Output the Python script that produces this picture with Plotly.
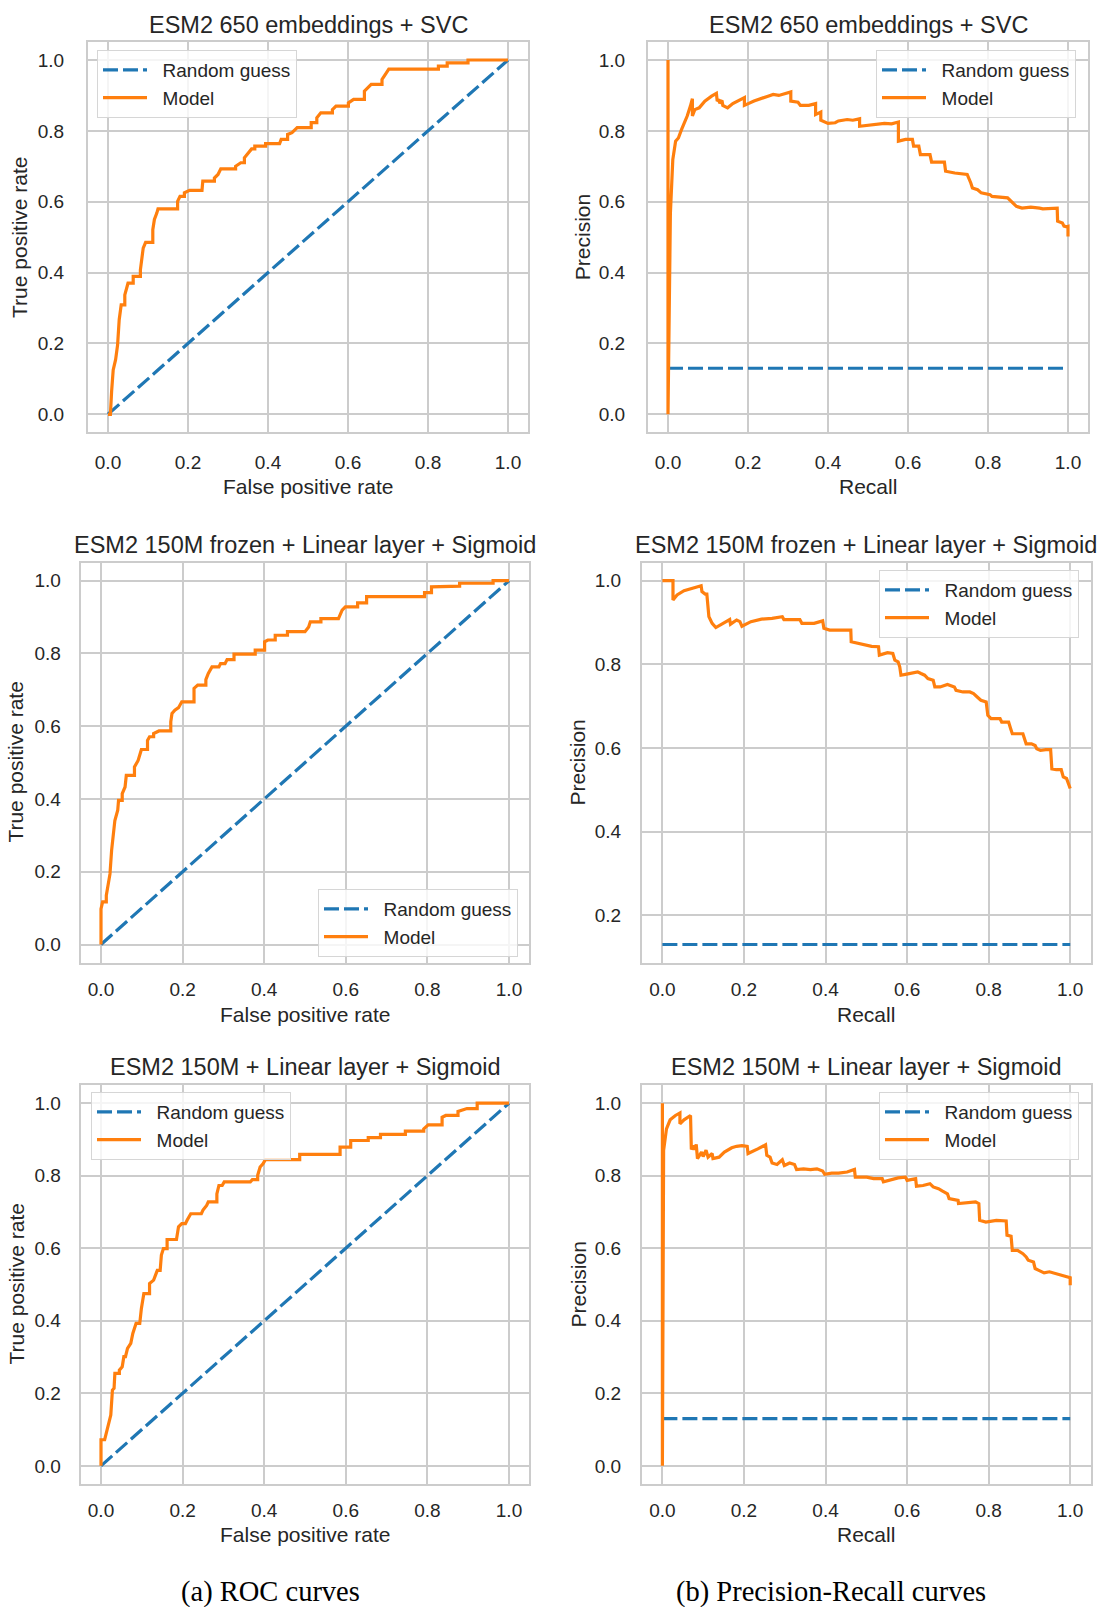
import plotly.graph_objects as go

W, H = 1102, 1607

# ---------------- data ----------------
roc1_fpr = [0, 0.006, 0.009, 0.013, 0.019, 0.024, 0.028, 0.033, 0.042, 0.042, 0.050, 0.063, 0.063, 0.081, 0.081,
            0.088, 0.094, 0.112, 0.112, 0.116, 0.122, 0.125, 0.174, 0.174, 0.180, 0.191, 0.191, 0.204, 0.235, 0.237,
            0.266, 0.266, 0.275, 0.282, 0.319, 0.319, 0.332, 0.341, 0.341, 0.350, 0.359, 0.367, 0.367, 0.394, 0.394,
            0.429, 0.433, 0.449, 0.449, 0.460, 0.473, 0.508, 0.508, 0.522, 0.522, 0.532, 0.561, 0.561, 0.570, 0.601,
            0.601, 0.614, 0.641, 0.641, 0.649, 0.658, 0.685, 0.685, 0.693, 0.702, 0.826, 0.826, 0.848, 0.848, 0.900,
            0.900, 1.0]
roc1_tpr = [0, 0, 0.064, 0.125, 0.154, 0.196, 0.267, 0.309, 0.309, 0.337, 0.370, 0.370, 0.389, 0.389, 0.408,
            0.469, 0.485, 0.485, 0.521, 0.550, 0.568, 0.580, 0.580, 0.601, 0.615, 0.615, 0.625, 0.632, 0.632, 0.658,
            0.658, 0.667, 0.677, 0.693, 0.693, 0.700, 0.710, 0.710, 0.724, 0.736, 0.749, 0.749, 0.757, 0.757, 0.764,
            0.764, 0.776, 0.776, 0.790, 0.795, 0.809, 0.809, 0.823, 0.823, 0.837, 0.851, 0.851, 0.860, 0.870, 0.870,
            0.879, 0.889, 0.889, 0.912, 0.922, 0.931, 0.931, 0.945, 0.959, 0.974, 0.974, 0.983, 0.983, 0.992, 0.992,
            1.0, 1.0]

roc2_fpr = [0, 0, 0.004, 0.013, 0.013, 0.017, 0.022, 0.026, 0.030, 0.034, 0.041, 0.043, 0.052, 0.052, 0.059,
            0.062, 0.082, 0.082, 0.091, 0.095, 0.099, 0.114, 0.114, 0.119, 0.129, 0.129, 0.142, 0.171, 0.171, 0.174,
            0.181, 0.190, 0.198, 0.228, 0.228, 0.237, 0.257, 0.257, 0.263, 0.272, 0.289, 0.293, 0.304, 0.309, 0.326,
            0.326, 0.378, 0.378, 0.401, 0.401, 0.409, 0.427, 0.427, 0.457, 0.457, 0.500, 0.509, 0.513, 0.539, 0.539,
            0.582, 0.591, 0.599, 0.629, 0.629, 0.651, 0.651, 0.793, 0.793, 0.810, 0.810, 0.879, 0.879, 0.961, 0.961,
            1.0]
roc2_tpr = [0, 0.098, 0.117, 0.117, 0.135, 0.162, 0.194, 0.259, 0.305, 0.341, 0.369, 0.396, 0.396, 0.415, 0.433,
            0.465, 0.465, 0.488, 0.506, 0.520, 0.536, 0.536, 0.561, 0.571, 0.571, 0.580, 0.587, 0.587, 0.612, 0.635,
            0.644, 0.651, 0.667, 0.667, 0.704, 0.713, 0.713, 0.728, 0.745, 0.763, 0.763, 0.772, 0.772, 0.783, 0.783,
            0.798, 0.798, 0.809, 0.809, 0.832, 0.837, 0.837, 0.850, 0.850, 0.860, 0.860, 0.873, 0.887, 0.887, 0.896,
            0.896, 0.919, 0.928, 0.928, 0.939, 0.939, 0.956, 0.956, 0.967, 0.967, 0.983, 0.985, 0.993, 0.993, 1.0,
            1.0]

roc3_fpr = [0, 0, 0.009, 0.013, 0.017, 0.024, 0.028, 0.032, 0.034, 0.045, 0.045, 0.052, 0.056, 0.060, 0.065,
            0.073, 0.078, 0.086, 0.095, 0.099, 0.105, 0.119, 0.119, 0.129, 0.138, 0.145, 0.148, 0.153, 0.162, 0.162,
            0.185, 0.190, 0.198, 0.207, 0.211, 0.220, 0.246, 0.250, 0.259, 0.263, 0.284, 0.284, 0.289, 0.297, 0.302,
            0.366, 0.371, 0.384, 0.384, 0.390, 0.397, 0.403, 0.487, 0.487, 0.586, 0.586, 0.612, 0.612, 0.655, 0.655,
            0.685, 0.685, 0.746, 0.746, 0.791, 0.791, 0.802, 0.836, 0.836, 0.845, 0.875, 0.875, 0.897, 0.922, 0.922,
            1.0]
roc3_tpr = [0, 0.072, 0.072, 0.090, 0.117, 0.140, 0.209, 0.214, 0.255, 0.255, 0.264, 0.273, 0.301, 0.301, 0.324,
            0.338, 0.365, 0.393, 0.393, 0.434, 0.475, 0.475, 0.503, 0.512, 0.539, 0.539, 0.581, 0.599, 0.599, 0.624,
            0.624, 0.659, 0.668, 0.668, 0.677, 0.695, 0.695, 0.705, 0.718, 0.728, 0.728, 0.750, 0.773, 0.773, 0.783,
            0.783, 0.789, 0.789, 0.801, 0.824, 0.833, 0.844, 0.844, 0.859, 0.859, 0.879, 0.879, 0.897, 0.897, 0.905,
            0.905, 0.914, 0.914, 0.923, 0.923, 0.929, 0.940, 0.940, 0.961, 0.966, 0.966, 0.977, 0.985, 0.985, 1.0,
            1.0]

pr1_recall = [0, 0, 0.006, 0.012, 0.019, 0.026, 0.034, 0.048, 0.056, 0.061, 0.061, 0.067, 0.078, 0.092, 0.109,
              0.121, 0.123, 0.127, 0.129, 0.135, 0.137, 0.149, 0.162, 0.180, 0.191, 0.191, 0.215, 0.250, 0.263, 0.277,
              0.307, 0.307, 0.325, 0.331, 0.352, 0.369, 0.369, 0.382, 0.382, 0.400, 0.418, 0.426, 0.448, 0.462, 0.479,
              0.479, 0.515, 0.541, 0.559, 0.576, 0.576, 0.594, 0.611, 0.614, 0.627, 0.631, 0.655, 0.659, 0.691, 0.694,
              0.717, 0.748, 0.757, 0.761, 0.774, 0.783, 0.805, 0.810, 0.849, 0.863, 0.871, 0.885, 0.907, 0.929, 0.937,
              0.973, 0.974, 0.986, 0.990, 0.997, 1.0, 1.0]
pr1_precision = [1.0, 0, 0.568, 0.719, 0.771, 0.780, 0.804, 0.842, 0.870, 0.891, 0.842, 0.860, 0.865, 0.884, 0.898,
                 0.906, 0.884, 0.889, 0.878, 0.886, 0.872, 0.865, 0.877, 0.887, 0.894, 0.872, 0.884, 0.898, 0.903,
                 0.900, 0.910, 0.884, 0.881, 0.872, 0.872, 0.877, 0.846, 0.853, 0.830, 0.821, 0.823, 0.828, 0.832,
                 0.830, 0.834, 0.813, 0.818, 0.821, 0.820, 0.825, 0.771, 0.776, 0.776, 0.757, 0.757, 0.733, 0.733,
                 0.712, 0.712, 0.686, 0.681, 0.677, 0.653, 0.639, 0.634, 0.625, 0.620, 0.615, 0.611, 0.597, 0.587,
                 0.582, 0.585, 0.582, 0.580, 0.582, 0.545, 0.540, 0.531, 0.529, 0.530, 0.502]

pr2_recall = [0, 0.026, 0.026, 0.036, 0.053, 0.071, 0.095, 0.097, 0.105, 0.109, 0.114, 0.118, 0.122, 0.131, 0.148,
              0.165, 0.167, 0.182, 0.190, 0.195, 0.217, 0.243, 0.269, 0.294, 0.298, 0.320, 0.337, 0.342, 0.372, 0.393,
              0.396, 0.410, 0.462, 0.463, 0.483, 0.501, 0.513, 0.530, 0.532, 0.552, 0.565, 0.570, 0.578, 0.582, 0.585,
              0.596, 0.613, 0.626, 0.634, 0.643, 0.651, 0.664, 0.668, 0.681, 0.699, 0.716, 0.720, 0.737, 0.754, 0.763,
              0.772, 0.781, 0.794, 0.798, 0.806, 0.828, 0.832, 0.849, 0.854, 0.858, 0.884, 0.892, 0.905, 0.914, 0.918,
              0.927, 0.940, 0.952, 0.955, 0.966, 0.978, 0.983, 0.991, 0.996, 1.0]
pr2_precision = [1.0, 1.0, 0.954, 0.966, 0.976, 0.982, 0.988, 0.974, 0.968, 0.968, 0.914, 0.906, 0.898, 0.888, 0.898,
                 0.907, 0.896, 0.906, 0.902, 0.891, 0.902, 0.908, 0.910, 0.914, 0.907, 0.907, 0.907, 0.898, 0.898,
                 0.904, 0.886, 0.882, 0.882, 0.854, 0.850, 0.846, 0.843, 0.842, 0.822, 0.828, 0.826, 0.810, 0.806,
                 0.794, 0.774, 0.776, 0.780, 0.782, 0.778, 0.774, 0.766, 0.762, 0.746, 0.746, 0.752, 0.746, 0.738,
                 0.734, 0.734, 0.730, 0.722, 0.714, 0.710, 0.678, 0.670, 0.670, 0.662, 0.662, 0.646, 0.634, 0.634,
                 0.610, 0.610, 0.606, 0.598, 0.594, 0.596, 0.596, 0.550, 0.548, 0.548, 0.531, 0.527, 0.515, 0.503]

pr3_recall = [0, 0, 0.003, 0.010, 0.019, 0.032, 0.043, 0.043, 0.053, 0.069, 0.071, 0.075, 0.079, 0.083, 0.086,
              0.096, 0.100, 0.107, 0.112, 0.122, 0.124, 0.139, 0.152, 0.170, 0.182, 0.195, 0.208, 0.210, 0.234, 0.253,
              0.256, 0.264, 0.269, 0.281, 0.294, 0.299, 0.312, 0.324, 0.329, 0.346, 0.363, 0.379, 0.393, 0.398, 0.415,
              0.432, 0.453, 0.471, 0.473, 0.501, 0.518, 0.539, 0.542, 0.561, 0.578, 0.596, 0.600, 0.621, 0.623, 0.639,
              0.656, 0.664, 0.677, 0.686, 0.699, 0.703, 0.725, 0.726, 0.750, 0.768, 0.776, 0.778, 0.793, 0.819, 0.843,
              0.845, 0.855, 0.858, 0.871, 0.884, 0.892, 0.897, 0.910, 0.914, 0.923, 0.936, 0.949, 0.966, 0.974, 0.991,
              1.0, 1.0]
pr3_precision = [1.0, 0, 0.870, 0.929, 0.954, 0.966, 0.973, 0.943, 0.954, 0.966, 0.872, 0.883, 0.872, 0.886, 0.847,
                 0.865, 0.853, 0.870, 0.851, 0.861, 0.847, 0.851, 0.865, 0.877, 0.881, 0.883, 0.881, 0.861, 0.874,
                 0.885, 0.856, 0.851, 0.835, 0.831, 0.844, 0.828, 0.835, 0.831, 0.817, 0.819, 0.817, 0.819, 0.813,
                 0.804, 0.807, 0.807, 0.810, 0.817, 0.796, 0.796, 0.792, 0.792, 0.783, 0.789, 0.794, 0.796, 0.787,
                 0.792, 0.771, 0.773, 0.778, 0.769, 0.764, 0.758, 0.750, 0.737, 0.732, 0.723, 0.725, 0.728, 0.723,
                 0.677, 0.672, 0.677, 0.675, 0.636, 0.633, 0.594, 0.594, 0.585, 0.576, 0.567, 0.562, 0.544, 0.539,
                 0.532, 0.535, 0.530, 0.526, 0.521, 0.519, 0.498]

chance_x = [0.0, 1.0]
roc_chance_y = [0.0, 1.0]
pr_chance_y = [0.13, 0.13]

tick_vals = [0.0, 0.2, 0.4, 0.6, 0.8, 1.0]

panel_titles = ["ESM2 650 embeddings + SVC", "ESM2 650 embeddings + SVC",
                "ESM2 150M frozen + Linear layer + Sigmoid", "ESM2 150M frozen + Linear layer + Sigmoid",
                "ESM2 150M + Linear layer + Sigmoid", "ESM2 150M + Linear layer + Sigmoid"]
x_titles = ["False positive rate", "Recall"] * 3
y_titles = ["True positive rate", "Precision"] * 3
series_names = ["Random guess", "Model"]
captions = ["(a) ROC curves", "(b) Precision-Recall curves"]

curves = [
    (chance_x, roc_chance_y, roc1_fpr, roc1_tpr),
    (chance_x, pr_chance_y, pr1_recall, pr1_precision),
    (chance_x, roc_chance_y, roc2_fpr, roc2_tpr),
    (chance_x, pr_chance_y, pr2_recall, pr2_precision),
    (chance_x, roc_chance_y, roc3_fpr, roc3_tpr),
    (chance_x, pr_chance_y, pr3_recall, pr3_precision),
]

# ---------------- layout (pixel geometry) ----------------
frames = [(88, 42.3, 528, 432), (648, 42.3, 1088, 432),
          (80.6, 562.5, 529.4, 962.7), (642, 562.5, 1090.6, 962.7),
          (80.6, 1085, 529.4, 1484), (642, 1085, 1090.6, 1484)]
y_ranges = [[-0.05, 1.05], [-0.05, 1.05], [-0.05, 1.05], [0.0865, 1.0435], [-0.05, 1.05], [-0.05, 1.05]]
legend_px = [(97, 50), (876, 50), (318, 889), (879, 570), (91, 1092), (879, 1092)]
title_y_px = [25, 25, 545, 545, 1066.5, 1066.5]
xtitle_y_px = [487, 487, 1014, 1014, 1534, 1534]
ytitle_x_px = [18.8, 582, 16, 578, 16, 578]
x_standoff = [12, 12, 8, 8, 8, 8]
y_standoff = [18, 17, 14, 15, 14, 15]

FONT = "Liberation Sans, Arial, sans-serif"
TXT = "#262626"
GRID = "#cccccc"
BLUE = "#1f77b4"
ORANGE = "#ff7f0e"
PAD = "\u00a0\u00a0"

fig = go.Figure()
annotations = []
layout = dict(width=W, height=H, margin=dict(l=0, r=0, t=0, b=0),
              paper_bgcolor="white", plot_bgcolor="white",
              font=dict(family=FONT, color=TXT), showlegend=True)

for i, (cx, cy, mx, my) in enumerate(curves):
    n = i + 1
    sfx = "" if n == 1 else str(n)
    lg = "legend" if n == 1 else f"legend{n}"
    xa, ya = f"x{sfx}", f"y{sfx}"
    fig.add_trace(go.Scatter(x=cx, y=cy, mode="lines", name=PAD + series_names[0],
                             line=dict(color=BLUE, width=3.2, dash="15px,5px"),
                             xaxis=xa, yaxis=ya, legend=lg, hoverinfo="skip"))
    fig.add_trace(go.Scatter(x=mx, y=my, mode="lines", name=PAD + series_names[1],
                             line=dict(color=ORANGE, width=3.2),
                             xaxis=xa, yaxis=ya, legend=lg, hoverinfo="skip"))
    L, T, R, B = frames[i]
    axis_common = dict(showgrid=True, gridcolor=GRID, gridwidth=2, showline=True, mirror=True,
                       linecolor=GRID, linewidth=2, zeroline=False, ticks="",
                       tickvals=tick_vals, tickformat=".1f", automargin=False,
                       tickfont=dict(family=FONT, size=19, color=TXT), fixedrange=True)
    layout[f"xaxis{sfx}"] = dict(axis_common, domain=[L / W, R / W], range=[-0.05, 1.05],
                                 anchor=ya, ticklabelstandoff=x_standoff[i])
    layout[f"yaxis{sfx}"] = dict(axis_common, domain=[1 - B / H, 1 - T / H], range=y_ranges[i],
                                 anchor=xa, ticklabelstandoff=y_standoff[i])
    lx, ly = legend_px[i]
    layout[lg] = dict(x=lx / W, y=1 - ly / H, xanchor="left", yanchor="top",
                      bgcolor="rgba(255,255,255,0.8)", bordercolor="#d6d6d6", borderwidth=1,
                      font=dict(family=FONT, size=19, color=TXT), itemwidth=44, tracegroupgap=0)
    cxp = (L + R) / 2
    annotations.append(dict(text=panel_titles[i], x=cxp / W, y=1 - title_y_px[i] / H, xref="paper", yref="paper",
                            xanchor="center", yanchor="middle", showarrow=False,
                            font=dict(family=FONT, size=23.5, color=TXT)))
    annotations.append(dict(text=x_titles[i], x=cxp / W, y=1 - xtitle_y_px[i] / H, xref="paper", yref="paper",
                            xanchor="center", yanchor="middle", showarrow=False,
                            font=dict(family=FONT, size=21, color=TXT)))
    annotations.append(dict(text=y_titles[i], x=ytitle_x_px[i] / W, y=1 - ((T + B) / 2) / H, xref="paper",
                            yref="paper", xanchor="center", yanchor="middle", showarrow=False, textangle=-90,
                            font=dict(family=FONT, size=21, color=TXT)))

annotations.append(dict(text=captions[0], x=270 / W, y=1 - 1592 / H, xref="paper", yref="paper",
                        xanchor="center", yanchor="middle", showarrow=False,
                        font=dict(family="Liberation Serif, serif", size=28.5, color="#000000")))
annotations.append(dict(text=captions[1], x=831 / W, y=1 - 1592 / H, xref="paper", yref="paper",
                        xanchor="center", yanchor="middle", showarrow=False,
                        font=dict(family="Liberation Serif, serif", size=28.5, color="#000000")))
layout["annotations"] = annotations
fig.update_layout(**layout)
fig.write_html("out.html")
